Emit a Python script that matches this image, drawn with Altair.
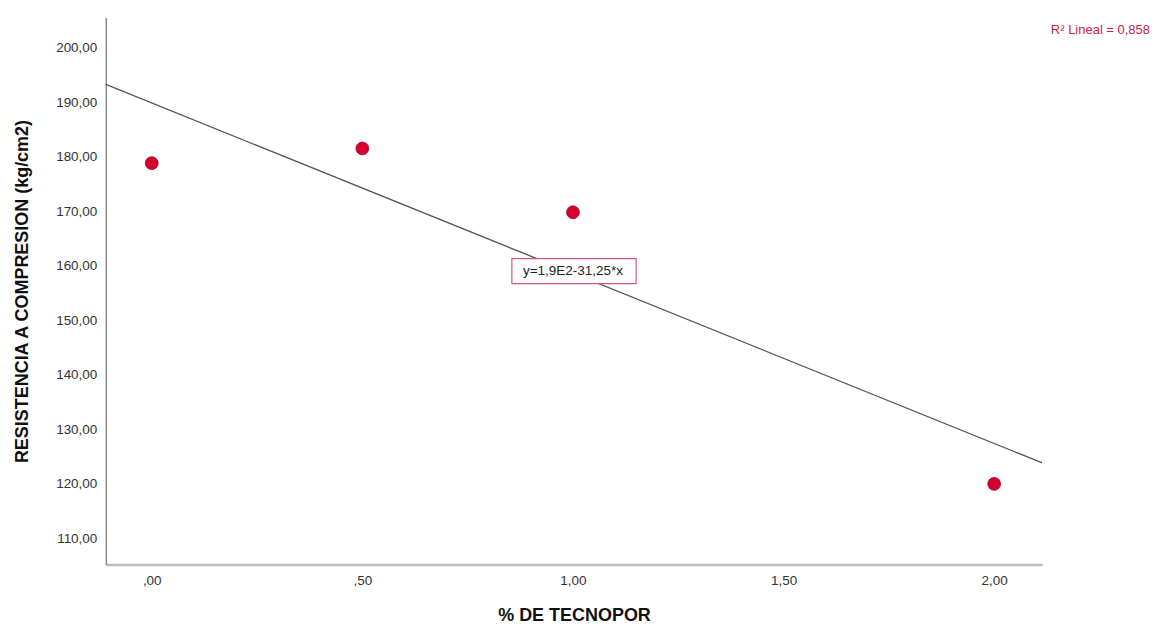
import altair as alt
import pandas as pd

tecnopor = [0.0, 0.5, 1.0, 2.0]
resistencia = [178.8, 181.5, 169.8, 120.0]
x_ticks = [0.0, 0.5, 1.0, 1.5, 2.0]
y_ticks = [110, 120, 130, 140, 150, 160, 170, 180, 190, 200]
x_domain = [-0.109, 2.114]
y_domain = [105.2, 205.5]
eq_label = "y=1,9E2-31,25*x"
eq_pos = [1.0, 159.0]
eq_box = [0.855, 1.150, 156.7, 161.3]
r2_label = "R² Lineal = 0,858"

df = pd.DataFrame({"x": tecnopor, "y": resistencia})

FONT = "Liberation Sans"

xs = alt.Scale(domain=x_domain, nice=False, zero=False)
ys = alt.Scale(domain=y_domain, nice=False, zero=False)

x_axis = alt.Axis(
    values=x_ticks, title="% DE TECNOPOR", grid=False, ticks=False,
    labelExpr="datum.value < 1 ? replace(format(datum.value, '.2f'), '0.', ',') : replace(format(datum.value, '.2f'), '.', ',')",
    domainColor="#bdbdbd", domainWidth=2.5, labelPadding=9, titlePadding=20,
    labelFontSize=13.5, labelColor="#333333", labelFont=FONT,
    titleFontSize=18, titleFont=FONT, titleFontWeight="bold", titleColor="#111111",
)
y_axis = alt.Axis(
    values=y_ticks, title="RESISTENCIA A COMPRESION (kg/cm2)", grid=False, ticks=False,
    labelExpr="replace(format(datum.value, '.2f'), '.', ',')",
    domainColor="#8a8a8a", domainWidth=1.5, labelPadding=9, titlePadding=24,
    labelFontSize=13.5, labelColor="#333333", labelFont=FONT,
    titleFontSize=18, titleFont=FONT, titleFontWeight="bold", titleColor="#111111",
)

base = alt.Chart(df)

points = base.mark_point(
    shape="circle", size=165, filled=True, opacity=1, color="#d6002f",
    stroke="#b0002a", strokeWidth=0.8
).encode(
    x=alt.X("x:Q", scale=xs, axis=x_axis),
    y=alt.Y("y:Q", scale=ys, axis=y_axis),
)

reg = base.transform_regression("x", "y", extent=x_domain).mark_line(
    color="#555555", strokeWidth=1.3, clip=True
).encode(x=alt.X("x:Q", scale=xs), y=alt.Y("y:Q", scale=ys))

box_df = pd.DataFrame({"x1": [eq_box[0]], "x2": [eq_box[1]], "y1": [eq_box[2]], "y2": [eq_box[3]]})
box = alt.Chart(box_df).mark_rect(fill="white", stroke="#d4557a", strokeWidth=1.2).encode(
    x=alt.X("x1:Q", scale=xs), x2="x2:Q", y=alt.Y("y1:Q", scale=ys), y2="y2:Q"
)

eq_df = pd.DataFrame({"x": [eq_pos[0]], "y": [eq_pos[1]], "t": [eq_label]})
eq = alt.Chart(eq_df).mark_text(font=FONT, fontSize=13.5, color="#222222", align="center", baseline="middle").encode(
    x=alt.X("x:Q", scale=xs), y=alt.Y("y:Q", scale=ys), text="t:N"
)

r2_df = pd.DataFrame({"t": [r2_label]})
r2 = alt.Chart(r2_df).mark_text(font=FONT, fontSize=13, color="#c8234e", align="right", baseline="middle").encode(
    x=alt.value(1046), y=alt.value(13), text="t:N"
)

chart = alt.layer(reg, box, eq, points, r2).properties(
    width=938, height=548,
    padding={"left": 98, "top": 9, "right": 110, "bottom": 60},
    autosize=alt.AutoSizeParams(type="none"),
    background="white",
).configure_view(strokeWidth=0, stroke="transparent")

chart.save("out.html", embed_options={"renderer": "svg", "actions": False})
